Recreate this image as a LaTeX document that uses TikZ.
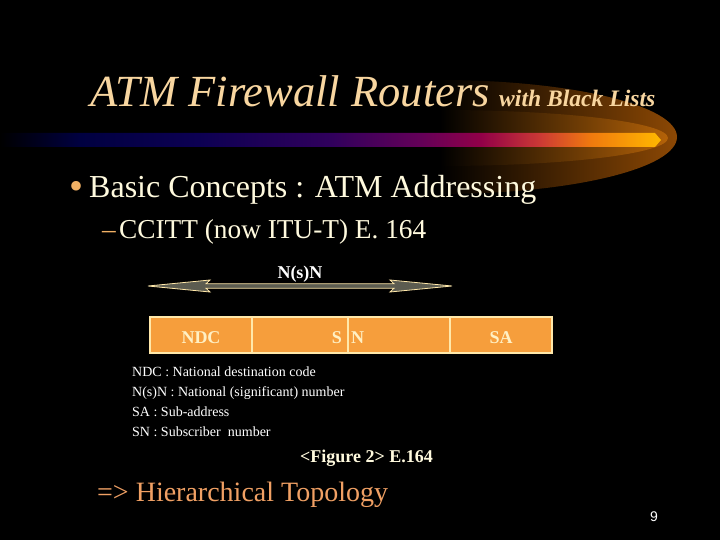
\documentclass[tikz,border=0pt]{standalone}
\usepackage{fontspec}
\setmainfont{Liberation Serif}
\setsansfont{Liberation Sans}
\usetikzlibrary{calc, positioning}
\definecolor{titlecol}{RGB}{248,214,160}
\definecolor{bodycol}{RGB}{255,250,222}
\definecolor{dotcol}{RGB}{240,176,100}
\definecolor{hiercol}{RGB}{240,160,100}
\definecolor{cellfill}{RGB}{246,158,60}
\definecolor{cellline}{RGB}{255,232,170}
\definecolor{celltext}{RGB}{255,240,196}
\definecolor{shaftcol}{RGB}{92,92,80}
\definecolor{glowA}{RGB}{140,72,4}
\definecolor{glowB}{RGB}{180,98,8}
\definecolor{barA}{RGB}{0,0,64}
\definecolor{barB}{RGB}{12,0,82}
\definecolor{barC}{RGB}{48,0,92}
\definecolor{barD}{RGB}{100,0,88}
\definecolor{barE}{RGB}{146,0,72}
\definecolor{barF}{RGB}{204,58,52}
\definecolor{barG}{RGB}{240,122,14}
\definecolor{barH}{RGB}{255,184,0}
\pgfdeclarehorizontalshading{barshade}{100bp}{color(0bp)=(black); color(25bp)=(black);
  color(31bp)=(barA); color(40bp)=(barB); color(50bp)=(barC); color(56.8bp)=(barD);
  color(61.4bp)=(barE); color(65.9bp)=(barF); color(69.7bp)=(barG); color(75bp)=(barH);
  color(100bp)=(barH)}

\begin{document}
\begin{tikzpicture}[x=1pt, y=-1pt,
    txt/.style={inner sep=0pt, anchor=base west},
    title/.style={txt, text=titlecol, font=\fontsize{44.5}{54}\selectfont\itshape},
    subtitle/.style={txt, text=titlecol, font=\fontsize{23.6}{28}\selectfont\bfseries\itshape},
    lvlone/.style={txt, text=bodycol, font=\fontsize{32}{38}\selectfont},
    lvltwo/.style={txt, text=bodycol, font=\fontsize{27.3}{33}\selectfont},
    legend/.style={txt, text=white, font=\fontsize{14}{17}\selectfont},
    cell/.style={draw=cellline, fill=cellfill, line width=1.4pt, inner sep=0pt,
                 minimum height=36pt, text=celltext, text height=16pt, text depth=0pt,
                 font=\fontsize{18}{20}\selectfont\bfseries},
]
\useasboundingbox[fill=black] (0,0) rectangle (720,540);

% glow behind the title bar
\shade[left color=black, middle color=glowA!75!black, right color=glowA]
   (440,80) arc[start angle=-90, end angle=90, x radius=237, y radius=57] -- cycle;
\shade[left color=black, middle color=glowB!75!black, right color=glowB]
   (440,110) arc[start angle=-90, end angle=90, x radius=228, y radius=28] -- cycle;
\shade[shading=barshade] (0,133) -- (655,133) -- (661,140) -- (655,147) -- (0,147) -- cycle;

\node[title] (ttl) at (90,107) {ATM Firewall Routers};
\node[subtitle] (sub) at (499,107) {with Black Lists};

\node[txt, text=dotcol, font=\fontsize{40}{40}\selectfont] (dot) at (69,200) {•};
\node[lvlone] (basic) at (89,197) {Basic Concepts : ATM Addressing};
\node[lvltwo, text=dotcol] (dash) at (102,239) {–};
\node[lvltwo] (ccitt) at (119,239) {CCITT (now ITU-T) E. 164};

% N(s)N span arrow
\coordinate (nsnL) at (148,286);
\coordinate (nsnR) at (452,286);
\node[txt, anchor=base, text=white, font=\fontsize{18}{20}\selectfont\bfseries]
   (nsn) at (300,278) {N(s)N};
\draw[draw=cellline, fill=shaftcol, line width=0.8pt, line join=miter]
   (nsnL) -- ($(nsnL)+(62,-6)$) -- ($(nsnL)+(58,-2.2)$) -- ($(nsnR)+(-58,-2.2)$)
   -- ($(nsnR)+(-62,-6)$) -- (nsnR) -- ($(nsnR)+(-62,6)$) -- ($(nsnR)+(-58,2.2)$)
   -- ($(nsnL)+(58,2.2)$) -- ($(nsnL)+(62,6)$) -- cycle;

% E.164 number fields
\node[cell, minimum width=102pt] (ndc) at (201,335) {NDC};
\node[cell, minimum width=96pt, text width=84pt, align=right] (sn1) at (300,335) {S};
\node[cell, minimum width=102pt, text width=96pt, align=left] (sn2) at (399,335) {N};
\node[cell, minimum width=102pt] (sa) at (501,335) {SA};

\node[legend] (lg1) at (132,376) {NDC : National destination code};
\node[legend] (lg2) at (132,396.5) {N(s)N : National (significant) number};
\node[legend] (lg3) at (132,416.5) {SA : Sub-address};
\node[legend] (lg4) at (132,436.5) {SN : Subscriber\ \ number};

\node[txt, text=bodycol, font=\fontsize{18}{21}\selectfont\bfseries]
   (cap) at (300,462) {<Figure 2> E.164};

\node[txt, text=hiercol, font=\fontsize{28}{34}\selectfont]
   (hier) at (97,501) {=> Hierarchical Topology};
\node[txt, text=white, font=\fontsize{14}{17}\selectfont\sffamily]
   (pg) at (650,521) {9};
\end{tikzpicture}
\end{document}
